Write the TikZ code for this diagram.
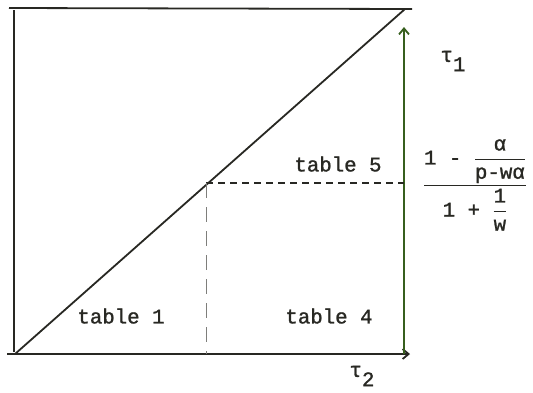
\documentclass[tikz,border=0pt]{standalone}
\usepackage{amsmath}
\usepackage{fontspec}
\setmonofont{Liberation Mono}[FakeBold=1.2]
\usetikzlibrary{arrows.meta}
\definecolor{ink}{RGB}{40,40,35}
\definecolor{axisgreen}{RGB}{55,95,30}
\tikzset{
  lin/.style={draw=ink, line width=1.8pt},
  axisline/.style={lin, -{Straight Barb[length=6pt,width=10pt]}},
  dsh/.style={draw=ink, line width=1.1pt, dash pattern=on 7pt off 5pt},
  vdsh/.style={draw=ink!60, line width=0.8pt, dash pattern=on 15pt off 9pt},
  lbl/.style={font=\ttfamily\fontsize{20.74}{24}\selectfont, text=ink, inner sep=0pt},
}
\newcommand{\taulab}[1]{τ\raisebox{-0.45em}{#1}}
\begin{document}
\begin{tikzpicture}[x=1pt,y=-1pt]
\useasboundingbox (0,0) rectangle (533,392);
\fill[white] (0,0) rectangle (533,392);
% corners
\coordinate (tl) at (9,8);
\coordinate (tr) at (412,9);
\coordinate (lt) at (14,10);
\coordinate (lb) at (14,352);
\coordinate (o) at (15,354);
\coordinate (bl) at (7,354);
\coordinate (br) at (410,354);
\coordinate (rb) at (404,354);
\coordinate (rt) at (404,27);
\coordinate (dtop) at (405,9);
\coordinate (m) at (206,183);
\coordinate (mh) at (404,183);
\coordinate (mv) at (206,354);
% lines
\draw[lin] (tl) -- (tr);
\draw[lin] (lt) -- (lb);
\draw[lin] (o) -- (dtop);
\draw[axisline] (bl) -- (br);
\draw[axisline, draw=axisgreen] (rb) -- (rt);
\draw[dsh] (m) -- (mh);
\draw[vdsh] (m) -- (mv);
% labels
\node[lbl] (t1) at (121,316) {table 1};
\node[lbl] (t4) at (329,316) {table 4};
\node[lbl] (t5) at (338,164) {table 5};
\node[lbl] (tau1) at (453,61) {\taulab{1}};
\node[lbl] (tau2) at (362,376) {\taulab{2}};
\node[lbl] (frac) at (475,185) {$\dfrac{\texttt{1 - }\dfrac{\texttt{α}}{\texttt{p-wα}}}{\texttt{1 + }\dfrac{\texttt{1}}{\texttt{w}}}$};
\end{tikzpicture}
\end{document}
